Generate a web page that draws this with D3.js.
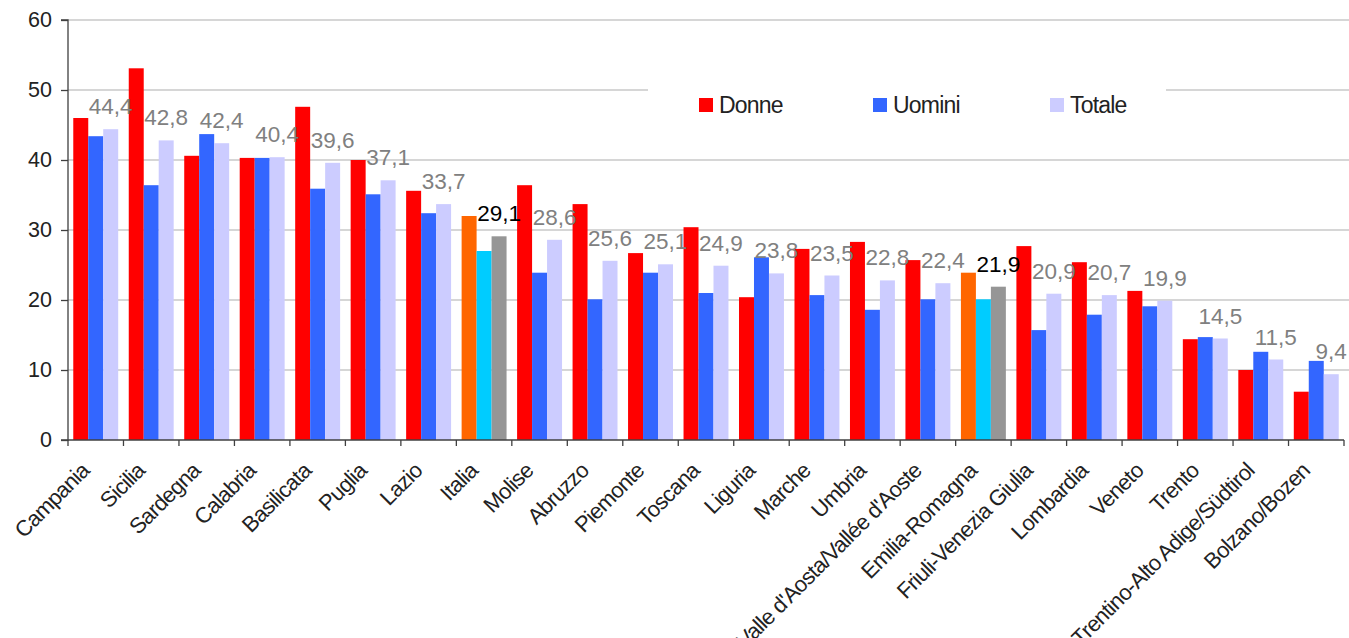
<!DOCTYPE html>
<html>
<head>
<meta charset="utf-8">
<script src="https://cdn.jsdelivr.net/npm/d3@7"></script>
<style>
  html, body { margin: 0; padding: 0; background: #fff; overflow: hidden; }
  svg { display: block; font-family: "Liberation Sans", Arial, Helvetica, sans-serif; }
</style>
</head>
<body>
<svg id="chart" width="1349" height="638"></svg>
<script>
// Regions (plus the national figure) ordered by total rate
const categories = [
  "Campania", "Sicilia", "Sardegna", "Calabria", "Basilicata", "Puglia", "Lazio",
  "Italia", "Molise", "Abruzzo", "Piemonte", "Toscana", "Liguria", "Marche", "Umbria",
  "Valle d'Aosta/Vallée d'Aoste", "Emilia-Romagna", "Friuli-Venezia Giulia",
  "Lombardia", "Veneto", "Trento", "Trentino-Alto Adige/Südtirol", "Bolzano/Bozen"
];
const donne  = [46.0, 53.1, 40.6, 40.3, 47.6, 40.0, 35.6, 32.0, 36.4, 33.7, 26.7, 30.4,
                20.4, 27.3, 28.3, 25.7, 23.9, 27.7, 25.4, 21.3, 14.4, 10.0, 6.9];
const uomini = [43.4, 36.4, 43.7, 40.3, 35.9, 35.1, 32.4, 27.0, 23.9, 20.1, 23.9, 21.0,
                26.1, 20.7, 18.6, 20.1, 20.1, 15.7, 17.9, 19.1, 14.7, 12.6, 11.3];
const totale = [44.4, 42.8, 42.4, 40.4, 39.6, 37.1, 33.7, 29.1, 28.6, 25.6, 25.1, 24.9,
                23.8, 23.5, 22.8, 22.4, 21.9, 20.9, 20.7, 19.9, 14.5, 11.5, 9.4];
const seriesNames = ["Donne", "Uomini", "Totale"];
const yTicks = [0, 10, 20, 30, 40, 50, 60];
const highlighted = ["Italia", "Emilia-Romagna"];

const baseColors = ["#ff0000", "#3366ff", "#ccccff"];
const highlightColors = ["#ff6600", "#00ccff", "#969696"];

const svg = d3.select("#chart");
const m = { left: 68, right: 1344, top: 20, bottom: 440 };

const x = d3.scaleBand()
  .domain(categories)
  .range([m.left, m.right])
  .paddingInner(0.19)
  .paddingOuter(0.095);

const x1 = d3.scaleBand()
  .domain(seriesNames)
  .range([0, x.bandwidth()]);

const y = d3.scaleLinear().domain([0, 60]).range([m.bottom, m.top]);

// horizontal gridlines
svg.append("g").selectAll("line")
  .data(yTicks.filter(d => d > 0))
  .join("line")
  .attr("x1", m.left).attr("x2", 1349)
  .attr("y1", d => y(d)).attr("y2", d => y(d))
  .attr("stroke", "#c8c8c8").attr("stroke-width", 1.3);

// white legend panel sits over the grid
svg.append("rect")
  .attr("x", 648).attr("y", 70).attr("width", 518).attr("height", 80)
  .attr("fill", "#fff");

// bars
const series = [donne, uomini, totale];
const groups = svg.append("g").selectAll("g")
  .data(categories)
  .join("g")
  .attr("transform", d => `translate(${x(d)},0)`);

groups.selectAll("rect")
  .data((c, i) => seriesNames.map((s, k) => ({ s, k, c, v: series[k][i] })))
  .join("rect")
  .attr("x", d => x1(d.s))
  .attr("width", x1.bandwidth())
  .attr("y", d => y(d.v))
  .attr("height", d => y(0) - y(d.v))
  .attr("fill", d => (highlighted.includes(d.c) ? highlightColors : baseColors)[d.k]);

// total values above the third bar of each group
const fmt = v => v.toFixed(1).replace(".", ",");
svg.append("g").selectAll("text")
  .data(categories)
  .join("text")
  .attr("x", (c) => x(c) + x1("Totale") + x1.bandwidth() / 2)
  .attr("y", (c, i) => y(totale[i]) - 15)
  .attr("text-anchor", "middle")
  .attr("font-size", 22.5)
  .attr("fill", c => highlighted.includes(c) ? "#000" : "#808080")
  .text((c, i) => fmt(totale[i]));

// y axis
const yAxis = svg.append("g").attr("transform", `translate(${m.left},0)`)
  .call(d3.axisLeft(y).tickValues(yTicks).tickSize(7).tickPadding(9).tickFormat(d3.format("d")));
yAxis.select(".domain").attr("stroke", "#404040").attr("stroke-width", 1.3).attr("d", `M-7,${m.top}H0V${m.bottom}H-7`);
yAxis.selectAll(".tick line").attr("stroke", "#404040").attr("stroke-width", 1.3);
yAxis.selectAll(".tick text").attr("font-size", 21.5).attr("fill", "#222")
  .attr("font-family", "\"Liberation Sans\", Arial, sans-serif");

// x axis baseline with ticks on the group boundaries
const xg = svg.append("g");
xg.append("line")
  .attr("x1", m.left).attr("x2", m.right)
  .attr("y1", m.bottom).attr("y2", m.bottom)
  .attr("stroke", "#404040").attr("stroke-width", 1.3);
const step = x.step();
const boundaries = categories.map(c => x(c) - x.paddingInner() * step / 2);
boundaries.push(m.right);
xg.selectAll("line.tick")
  .data(boundaries)
  .join("line")
  .attr("class", "tick")
  .attr("x1", d => d).attr("x2", d => d)
  .attr("y1", m.bottom).attr("y2", m.bottom + 6)
  .attr("stroke", "#404040").attr("stroke-width", 1.3);

// rotated category labels
xg.selectAll("text")
  .data(categories)
  .join("text")
  .attr("transform", c => `translate(${x(c) + x.bandwidth() / 2 - 5},472) rotate(-45)`)
  .attr("text-anchor", "end")
  .attr("font-size", 22)
  .attr("letter-spacing", -0.7)
  .attr("fill", "#222")
  .text(c => c);

// legend
const legendX = [699, 873, 1050];
const lg = svg.append("g").selectAll("g")
  .data(seriesNames)
  .join("g")
  .attr("transform", (d, i) => `translate(${legendX[i]},98)`);
lg.append("rect").attr("width", 14).attr("height", 14).attr("fill", (d, i) => baseColors[i]);
lg.append("text")
  .attr("x", 20).attr("y", 14.5)
  .attr("font-size", 23)
  .attr("letter-spacing", -0.8)
  .attr("fill", "#222")
  .text(d => d);
</script>
</body>
</html>
